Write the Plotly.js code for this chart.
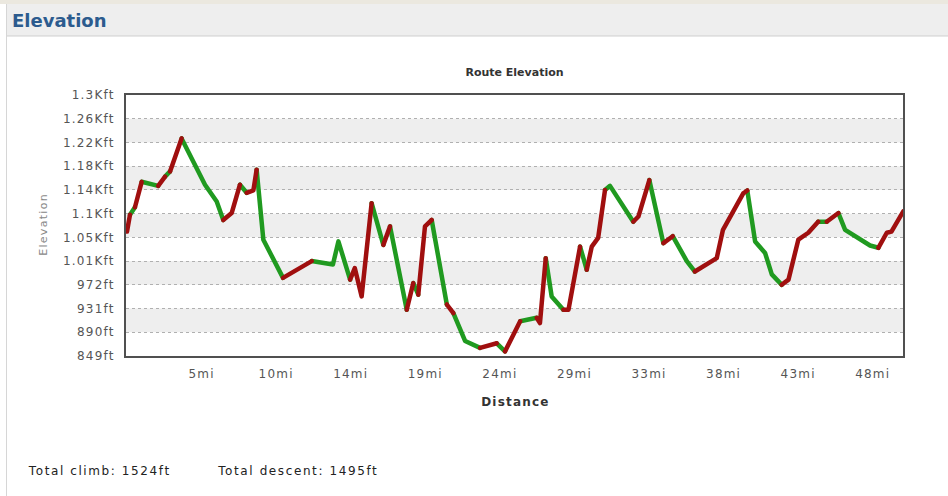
<!DOCTYPE html>
<html><head><meta charset="utf-8">
<script src="https://cdn.plot.ly/plotly-3.0.1.min.js"></script>
<style>
html,body{margin:0;padding:0;background:#fff;}
#chart{width:948px;height:496px;}
#chart .scatterlayer path.js-line{stroke-linecap:round;stroke-linejoin:round;}
</style></head><body><div id="chart"></div>
<script>
// ---- data ----
const distanceMi = [0,0.19,0.51,0.94,2.0,2.44,2.76,3.5,5.0,5.75,6.17,6.71,7.24,7.67,8.1,8.31,8.74,10.0,11.84,13.2,
  13.55,14.3,14.6,15.04,15.68,16.43,16.86,17.93,18.35,18.67,19.1,19.53,20.5,20.92,21.67,22.63,23.7,24.23,25.2,26.26,
  26.47,26.84,27.22,27.97,28.3,29.04,29.47,29.79,30.2,30.64,30.96,32.45,32.78,33.48,34.38,34.98,35.88,36.4,37.8,38.2,
  39.5,39.76,40.26,40.9,41.33,41.97,42.4,43.03,43.67,44.3,44.85,45.6,46.03,47.63,48.16,48.7,49.0,49.76];
const elevationFt = [1064,1093,1106,1150,1143,1159,1168,1225,1145,1116,1084,1096,1145,1131,1135,1171,1050,984,1013,1007,
  1047,981,1001,952,1113,1041,1073,929,975,955,1073,1084,938,923,875,863,871,857,909,915,
  906,1018,952,929,929,1038,998,1038,1053,1136,1143,1081,1090,1153,1044,1056,1013,995,1018,1067,
  1130,1135,1047,1027,990,972,981,1050,1062,1081,1081,1096,1067,1040,1036,1062,1064,1099];
// trend of each segment (from point i to point i+1), as coloured in the reference
const segmentTrend = ['up','down','up','down','up','down','up','down','down','down','up','up','down','up','up','down','down','up','down','down',
  'down','up','up','up','down','up','down','up','down','up','up','down','up','down','down','up','down','up','down','up',
  'up','down','down','up','up','down','up','up','up','down','down','up','up','down','up','down','down','up','up','up',
  'up','down','down','down','down','up','up','up','up','down','up','down','down','down','up','up','up'];
const yTickValues = [849,890,931,972,1013,1054,1095,1136,1177,1218,1259,1300];
const yTickLabels = ['849ft','890ft','931ft','972ft','1.01Kft','1.05Kft','1.1Kft','1.14Kft','1.18Kft','1.22Kft','1.26Kft','1.3Kft'];
const xTickValues = [4.78,9.56,14.34,19.12,23.9,28.68,33.46,38.24,43.02,47.8];
const xTickLabels = ['5mi','10mi','14mi','19mi','24mi','29mi','33mi','38mi','43mi','48mi'];
const totalClimbFt = 1524;
const totalDescentFt = 1495;

// ---- layout geometry ----
const L = 126, T = 95, W = 777, H = 261;
const px = x => (x - L) / W;
const py = y => (T + H - y) / H;

function runs(kind){
  const xs = [], ys = [];
  let i = 0;
  while (i < segmentTrend.length){
    if (segmentTrend[i] === kind){
      let j = i;
      while (j < segmentTrend.length && segmentTrend[j] === kind) j++;
      for (let k = i; k <= j; k++){ xs.push(distanceMi[k]); ys.push(elevationFt[k]); }
      xs.push(null); ys.push(null);
      i = j;
    } else i++;
  }
  return {xs, ys};
}
const up = runs('up'), down = runs('down');
const traces = [
  {x: down.xs, y: down.ys, type:'scatter', mode:'lines', connectgaps:false, line:{color:'#209a20', width:4.5}, hoverinfo:'skip', name:'descent'},
  {x: up.xs, y: up.ys, type:'scatter', mode:'lines', connectgaps:false, line:{color:'#a00f0f', width:4.5}, hoverinfo:'skip', name:'climb'}
];

const shapes = [];
for (let i = 1; i < yTickValues.length - 1; i += 2){
  shapes.push({type:'rect', xref:'paper', yref:'y', x0:0, x1:1, y0:yTickValues[i], y1:yTickValues[i+1],
    fillcolor:'#eeeeee', line:{width:0}, layer:'below'});
}
// page header band and panel border
shapes.push({type:'rect', xref:'paper', yref:'paper', x0:px(0), x1:px(948), y0:py(0), y1:py(4), fillcolor:'#ebe8df', line:{width:0}, layer:'below'});
shapes.push({type:'rect', xref:'paper', yref:'paper', x0:px(6), x1:px(948), y0:py(4), y1:py(36), fillcolor:'#eeeeee', line:{width:0}, layer:'below'});
shapes.push({type:'line', xref:'paper', yref:'paper', x0:px(6), x1:px(948), y0:py(36), y1:py(36), line:{color:'#cfcfcf', width:1}});
shapes.push({type:'line', xref:'paper', yref:'paper', x0:px(6.5), x1:px(6.5), y0:py(4), y1:py(496), line:{color:'#d6d6d6', width:1}});

// letter spacing applied to texts after drawing (px per character) and the matching shift of left-anchored labels
const spacingClimb = 1.6, spacingDescent = 1.6;
const climbText = 'Total climb: ' + totalClimbFt + 'ft';
const descentText = 'Total descent: ' + totalDescentFt + 'ft';

const annotations = [
  {text:'<b>Elevation</b>', xref:'paper', yref:'paper', x:px(10), y:py(20), xanchor:'left', yanchor:'middle', showarrow:false,
    font:{family:'DejaVu Sans', size:18, color:'#2c5b8e'}},
  {text:'Elevation', xref:'paper', yref:'paper', x:px(43), y:py(225), textangle:-90, xanchor:'center', yanchor:'middle', showarrow:false,
    font:{family:'DejaVu Sans', size:11, color:'#888'}},
  {text:'<b>Distance</b>', xref:'paper', yref:'paper', x:px(515), y:py(402), xanchor:'center', yanchor:'middle', showarrow:false,
    font:{family:'DejaVu Sans', size:12, color:'#333'}},
  {text:climbText, xref:'paper', yref:'paper', x:px(26 + climbText.length * spacingClimb / 2), y:py(471), xanchor:'left', yanchor:'middle', showarrow:false,
    font:{family:'DejaVu Sans', size:12, color:'#222'}},
  {text:descentText, xref:'paper', yref:'paper', x:px(215 + descentText.length * spacingDescent / 2), y:py(471), xanchor:'left', yanchor:'middle', showarrow:false,
    font:{family:'DejaVu Sans', size:12, color:'#222'}}
];

const layout = {
  width:948, height:496,
  margin:{l:L, r:948-L-W, t:T, b:496-T-H, pad:0},
  paper_bgcolor:'#ffffff', plot_bgcolor:'#ffffff',
  showlegend:false,
  title:{text:'<b>Route Elevation</b>', font:{family:'DejaVu Sans', size:11, color:'#333'},
    xref:'paper', x:0.5, xanchor:'center', yref:'container', y:1-72/496, yanchor:'middle'},
  xaxis:{range:[-0.064, 49.74], tickvals:xTickValues, ticktext:xTickLabels, showgrid:false, zeroline:false,
    showline:true, mirror:true, linecolor:'#505050', linewidth:2, ticks:'', ticklabelstandoff:6,
    tickfont:{family:'DejaVu Sans', size:12, color:'#555'}, fixedrange:true},
  yaxis:{range:[849,1300], tickvals:yTickValues, ticktext:yTickLabels, showgrid:true, gridcolor:'#b0b0b0', griddash:'dot', gridwidth:1,
    zeroline:false, showline:true, mirror:true, linecolor:'#505050', linewidth:2, ticks:'', ticklabelstandoff:7,
    tickfont:{family:'DejaVu Sans', size:12, color:'#555'}, fixedrange:true},
  shapes, annotations
};
Plotly.newPlot('chart', traces, layout, {displayModeBar:false, staticPlot:true}).then(gd => {
  const spread = (sel, v) => gd.querySelectorAll(sel).forEach(t => { t.style.letterSpacing = v; t.setAttribute('letter-spacing', v); });
  spread('.xtick text', '1.2px');
  spread('.ytick text', '1.2px');
  spread('g.annotation[data-index="1"] text', '1.3px');
  spread('g.annotation[data-index="2"] text', '1.2px');
  spread('g.annotation[data-index="3"] text', spacingClimb + 'px');
  spread('g.annotation[data-index="4"] text', spacingDescent + 'px');
});
</script></body></html>
